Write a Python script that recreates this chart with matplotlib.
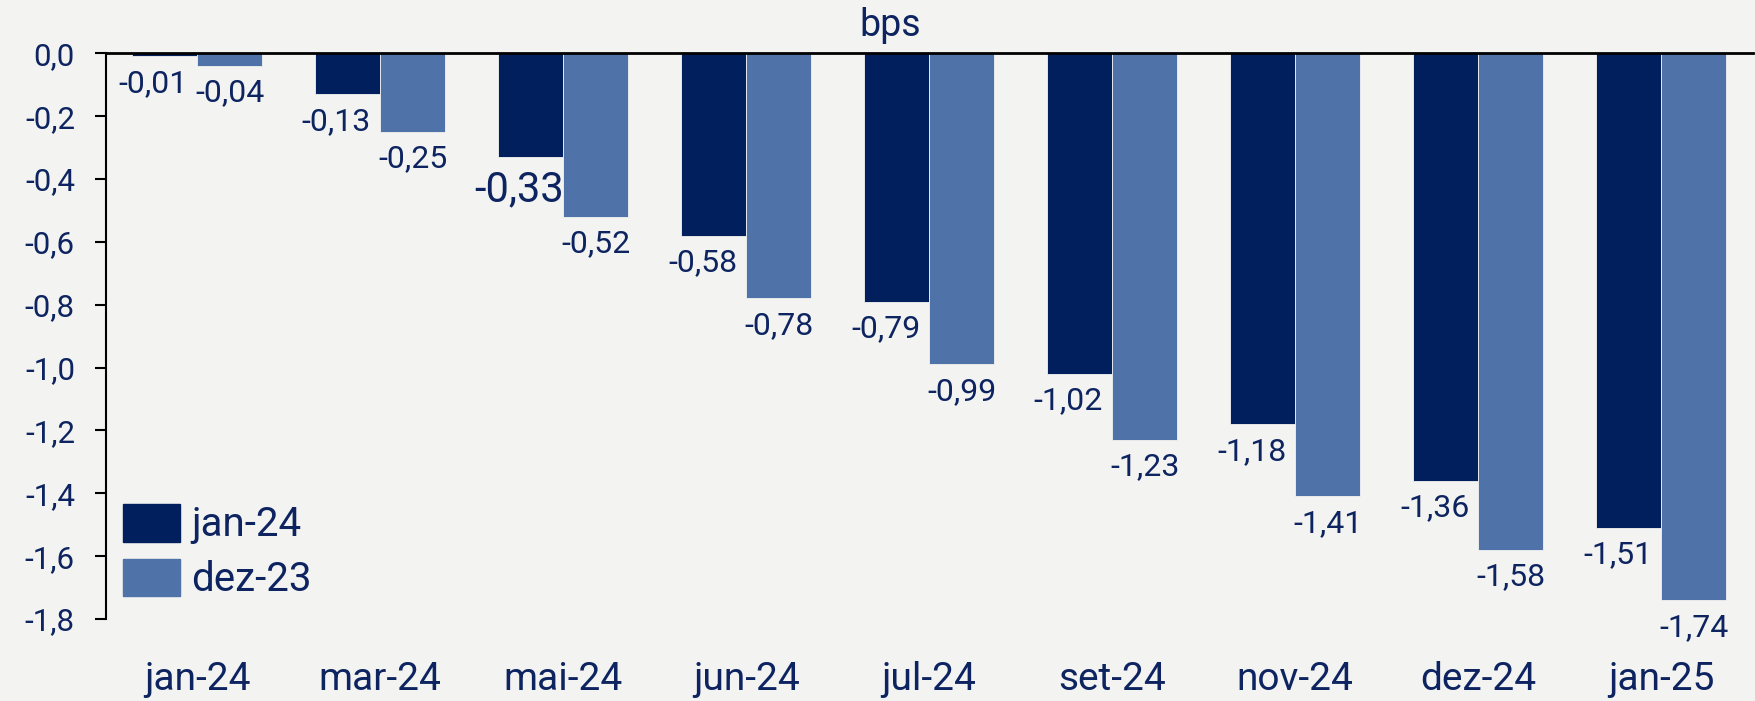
import numpy as np
from matplotlib import pyplot as plt
from matplotlib.patches import Patch

categories = ['jan-24', 'mar-24', 'mai-24', 'jun-24', 'jul-24',
              'set-24', 'nov-24', 'dez-24', 'jan-25']
jan24 = [-0.01, -0.13, -0.33, -0.58, -0.79, -1.02, -1.18, -1.36, -1.51]
dez23 = [-0.04, -0.25, -0.52, -0.78, -0.99, -1.23, -1.41, -1.58, -1.74]
series_labels = ['jan-24', 'dez-23']

dark = '#001F5C'
light = '#4F72A9'
txt = '#0D2461'
bg = '#F3F3F1'

plt.rcParams['font.family'] = ['Roboto', 'DejaVu Sans']

fig = plt.figure(figsize=(17.56, 7.01), dpi=100, facecolor=bg)
ax = fig.add_axes([0.0601, 0.117, 0.938, 0.807])
ax.set_facecolor(bg)

x = np.arange(len(categories))
w = 0.356
ax.bar(x - w / 2, jan24, w, color=dark, edgecolor=bg, linewidth=0.6)
ax.bar(x + w / 2, dez23, w, color=light, edgecolor=bg, linewidth=0.6)

for i in range(len(categories)):
    fs = 30 if i == 2 else 23
    ax.annotate(('%.2f' % jan24[i]).replace('.', ','), (x[i] - w / 2 - 0.06, jan24[i]),
                xytext=(0, -9), textcoords='offset points', ha='center', va='top',
                fontsize=fs, color=txt)
    ax.annotate(('%.2f' % dez23[i]).replace('.', ','), (x[i] + w / 2, dez23[i]),
                xytext=(0, -9), textcoords='offset points', ha='center', va='top',
                fontsize=23, color=txt)

ax.set_xlim(-0.5, len(categories) - 0.5)
ax.set_ylim(-1.8, 0)
yt = np.arange(-1.8, 0.01, 0.2)
ax.set_yticks(yt)
ax.set_yticklabels([('%.1f' % v).replace('.', ',').replace('-0,0', '0,0') for v in yt])
ax.set_xticks(x)
ax.set_xticklabels(categories)

ax.tick_params(axis='y', length=8, width=1.5, labelsize=22.5, labelcolor=txt, pad=14)
ax.tick_params(axis='x', length=0, labelsize=28, labelcolor=txt, pad=30)

for s in ['right', 'bottom']:
    ax.spines[s].set_visible(False)
ax.spines['left'].set_linewidth(1.5)
ax.spines['top'].set_linewidth(2)

fig.text(0.507, 0.963, 'bps', fontsize=27, color=txt, ha='center', va='center')

handles = [Patch(color=dark), Patch(color=light)]
ax.legend(handles, series_labels, loc='lower left', bbox_to_anchor=(0.0106, 0.035),
          frameon=False, fontsize=29, labelcolor=txt, handlelength=1.42,
          handleheight=1.07, handletextpad=0.27, labelspacing=0.35,
          borderaxespad=0, borderpad=0)

plt.savefig('out.png', facecolor=bg)
